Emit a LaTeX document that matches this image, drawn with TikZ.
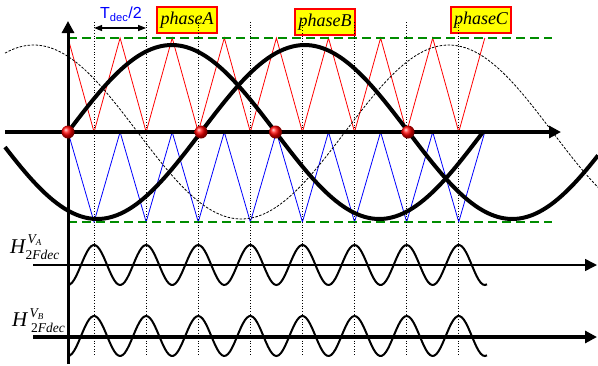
\documentclass[tikz,border=0pt]{standalone}
\usepackage{fontspec}
\setmainfont{Liberation Serif}
\setsansfont{Liberation Sans}
\usetikzlibrary{arrows.meta, calc, positioning}
\definecolor{cCarrA}{RGB}{255,0,0}
\definecolor{cCarrB}{RGB}{0,0,255}
\definecolor{cLim}{RGB}{0,140,0}
\definecolor{cTag}{RGB}{255,255,0}
\tikzset{
    axisln/.style={line width=3pt, black, -{Triangle[length=12pt, width=12pt]}},
    harm/.style={line width=2pt, black},
    phs/.style={line width=4pt, black, line join=round},
    phsthin/.style={line width=0.8pt, black, dash pattern=on 2.5pt off 1.5pt},
    carrA/.style={line width=0.8pt, cCarrA, line join=miter},
    carrB/.style={line width=0.8pt, cCarrB, line join=miter},
    lim/.style={line width=2.5pt, cLim, dash pattern=on 9pt off 5pt},
    grd/.style={line width=0.7pt, black, dotted},
    dimarr/.style={line width=1.2pt, {Triangle[length=8pt, width=6pt]}-{Triangle[length=8pt, width=6pt]}},
    tagbox/.style={draw=cCarrA, line width=2.7pt, fill=cTag, minimum width=60pt,
                   minimum height=26pt, inner sep=2pt, font=\fontsize{18}{20}\selectfont\itshape},
    zdot/.style={circle, minimum size=13pt, inner sep=0pt, shading=ball, ball color=red},
    hlbl/.style={inner sep=0pt, anchor=base west, font=\fontsize{21}{22}\selectfont\itshape},
    hsup/.style={inner sep=0pt, anchor=base west, font=\fontsize{13.5}{14}\selectfont\itshape},
    hsub/.style={inner sep=0pt, anchor=base west, font=\fontsize{13.5}{14}\selectfont},
}

\begin{document}
\begin{tikzpicture}[x=1pt, y=-1pt]
\useasboundingbox (0,0) rectangle (598,365);

\coordinate (ys) at (68,364);
\coordinate (ye) at (68,21);
\coordinate (xs) at (5,132);
\coordinate (xe) at (561,132);
\coordinate (h1s) at (33,265);
\coordinate (h1e) at (597,265);
\coordinate (h2s) at (33,337);
\coordinate (h2e) at (597,337);

% carriers
\draw[carrA] (68,38) \foreach \k in {1,...,8} { -- ({68+52.1*\k-26.05},132) -- ({68+52.1*\k},38) };
\draw[carrB] (68,132) \foreach \k in {1,...,8} { -- ({68+52.1*\k-26.05},222) -- ({68+52.1*\k},132) };

\draw[lim] (68,38) -- (552,38);
\draw[lim] (68,222) -- (552,222);

% phases
\draw[phsthin] plot[domain=5:598, samples=150] (\x, {132-87*sin((\x-345)/415*360)});
\draw[phs] plot[domain=68:483, samples=120] (\x, {132-87*sin((\x-68)/415*360)});
\draw[phs] plot[domain=5:598, samples=150] (\x, {132-87*sin((\x-201)/415*360)});

\draw[axisln, line width=3.5pt] (xs) -- (xe);
\draw[axisln] (ys) -- (ye);

% harmonics
\draw[harm] plot[domain=68:487, samples=200] (\x, {265-20*cos((\x-94.05)/52.1*360)});
\draw[harm] plot[domain=68:487, samples=200] (\x, {336-20*cos((\x-94.05)/52.1*360)});
\draw[axisln, line width=1.5pt] (h1s) -- (h1e);
\draw[axisln, line width=4pt] (h2s) -- (h2e);

\node[hlbl] (lblA) at (10,253) {H};
\node[hsup] (lblAsup) at (27.5,243) {V\raisebox{-2.5pt}{\fontsize{9}{9}\selectfont A}};
\node[hsub] (lblAsub) at (25.5,259) {2\textit{Fdec}};
\node[hlbl] (lblB) at (12,326) {H};
\node[hsup] (lblBsup) at (29.5,317) {V\raisebox{-2.5pt}{\fontsize{9}{9}\selectfont B}};
\node[hsub] (lblBsub) at (31,332.5) {2\textit{Fdec}};

\node[tagbox] (tagA) at (187,20) {phaseA};
\node[tagbox] (tagB) at (325,22) {phaseB};
\node[tagbox] (tagC) at (481,20) {phaseC};

\foreach \k in {1,...,8}
    \draw[grd] ({68+52.1*\k-26.05},22) -- ({68+52.1*\k-26.05},355);

\coordinate (tl) at (94.05,28);
\coordinate (tr) at (146.15,28);
\draw[dimarr] (tl) -- (tr);
\node[text=cCarrB, font=\fontsize{16}{18}\selectfont\sffamily, inner sep=0pt] (tdec) at (121,14) {T\textsubscript{dec}/2};

\foreach \xx/\nm in {68/zA, 201/zB, 275.5/zA2, 408/zB2}
    \node[zdot] (\nm) at (\xx,132) {};

\end{tikzpicture}
\end{document}
